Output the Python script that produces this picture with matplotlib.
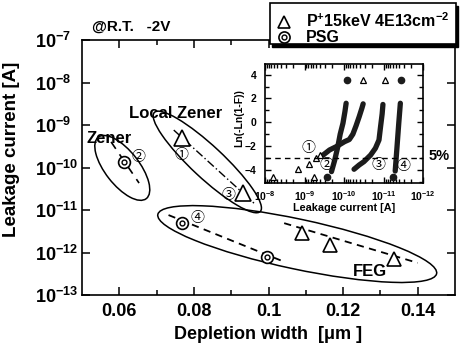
import matplotlib
matplotlib.use("Agg")
import matplotlib.pyplot as plt
import matplotlib.transforms as mtransforms
from matplotlib.patches import Ellipse, Rectangle
from matplotlib.lines import Line2D
from matplotlib.ticker import MultipleLocator, LogLocator, NullFormatter, NullLocator

plt.rcParams['font.family'] = ['Liberation Sans', 'DejaVu Sans']
plt.rcParams['font.weight'] = 'bold'
plt.rcParams['axes.labelweight'] = 'bold'
plt.rcParams['mathtext.fontset'] = 'custom'
for k in ('rm', 'it', 'bf', 'sf'):
    plt.rcParams['mathtext.' + k] = 'Liberation Sans:bold'

# ---- main plot data (depletion width [um], leakage current [A]) ----
zener_psg_x = [0.0612]
zener_psg_y = [1.37e-10]
zener_fit_x = [0.0578, 0.0653]
zener_fit_y = [4.0e-10, 4.3e-11]

lz_tri_x = [0.0768, 0.0931]
lz_tri_y = [5.0e-10, 2.45e-11]
lz_fit_x = [0.0746, 0.0961]
lz_fit_y = [7.6e-10, 1.45e-11]

feg_psg_x = [0.0768, 0.0997]
feg_psg_y = [4.9e-12, 7.9e-13]
feg_psg_fit_x = [0.0732, 0.1041]
feg_psg_fit_y = [7.6e-12, 6.1e-13]

feg_tri_x = [0.1090, 0.1166, 0.1336]
feg_tri_y = [2.8e-12, 1.5e-12, 7.2e-13]
feg_tri_fit_x = [0.1042, 0.1400]
feg_tri_fit_y = [4.9e-12, 5.7e-13]

# groups: label, centre x, centre y
group_names = ['Zener', 'Local Zener', 'FEG']
group_cx = [0.0608, 0.0836, 0.1077]
group_cy = [9.8e-11, 1.35e-10, 1.58e-12]
group_label_x = [0.0572, 0.0752, 0.1271]
group_label_y = [4.9e-10, 1.82e-9, 3.5e-13]

num_labels = ['①', '②', '③', '④']
num_x = [0.0766, 0.0650, 0.0893, 0.0809]
num_y = [1.97e-10, 1.74e-10, 2.25e-11, 6.4e-12]

# ---- inset: Weibull plot, log10 of leakage current vs Ln(-Ln(1-F)) ----
c1_logi = [-9.47, -9.63, -9.80, -10.01, -10.13, -10.22, -10.30, -10.38, -10.45, -10.48]
c1_w = [-2.75, -2.33, -2.05, -1.63, -1.45, -1.00, -0.30, 0.47, 1.20, 1.55]
c2_logi = [-9.68, -9.76, -9.84, -9.90, -9.97, -10.02, -10.05]
c2_w = [-4.15, -3.20, -2.05, -1.00, -0.08, 0.90, 1.60]
c3_logi = [-10.25, -10.38, -10.50, -10.67, -10.79, -10.88, -10.92, -10.96, -10.98]
c3_w = [-3.95, -3.59, -3.31, -2.75, -2.18, -1.49, -0.37, 0.70, 1.50]
c4_logi = [-11.29, -11.33, -11.38, -11.42]
c4_w = [-4.10, -2.33, -0.08, 1.60]

tail_tri_logi = [-8.84, -9.12, -9.30, -9.38]
tail_tri_w = [-3.92, -3.50, -3.03, -2.75]
top_tri_logi = [-10.48, -11.02]
top_dot_logi = [-10.06, -11.44]
top_w = 3.55
bot_tri_logi = [-8.19, -9.25]
bot_dot_logi = [-9.56, -11.23]
bot_w = -4.57
weibull_5pct = -2.97

inset_num_x = [-9.09, -9.55, -10.86, -11.50]
inset_num_y = [-2.18, -3.60, -3.60, -3.68]

W, H = 470, 346
fig = plt.figure(figsize=(W / 100, H / 100), dpi=100)
ax = fig.add_axes([82 / W, 51 / H, 373 / W, 255 / H])

ax.set_xlim(0.05, 0.15)
ax.set_yscale('log')
ax.set_ylim(1e-13, 1e-7)
ax.set_xticks([0.06, 0.08, 0.10, 0.12, 0.14])
ax.set_xticklabels(['0.06', '0.08', '0.1', '0.12', '0.14'])
ax.set_xticks([0.07, 0.09, 0.11, 0.13], minor=True)
yt = [1e-13, 1e-12, 1e-11, 1e-10, 1e-9, 1e-8, 1e-7]
ax.set_yticks(yt)
ax.set_yticklabels([r'$10^{%d}$' % e for e in range(-13, -6)])
ax.yaxis.set_minor_locator(NullLocator())
ax.tick_params(axis='both', which='both', direction='in', top=True, right=True, width=1.1)
ax.tick_params(axis='both', which='major', length=6)
ax.tick_params(axis='both', which='minor', length=3.5)
ax.tick_params(axis='x', labelsize=13, pad=6)
ax.tick_params(axis='y', labelsize=13, pad=34)
for lbl in ax.get_yticklabels():
    lbl.set_ha('left')
for s in ax.spines.values():
    s.set_linewidth(1.2)

ax.set_xlabel('Depletion width  [\u03bcm ]', fontsize=13, labelpad=4)
ax.set_ylabel('Leakage current [A]', fontsize=13.5)
ax.yaxis.set_label_coords(-0.165, 0.57)

# fit lines
ax.plot(zener_fit_x, zener_fit_y, color='k', lw=1.2, ls=(0, (5, 4)))
ax.plot(lz_fit_x, lz_fit_y, color='k', lw=1.0, ls=(0, (6, 2, 1, 2)))
ax.plot(feg_psg_fit_x, feg_psg_fit_y, color='k', lw=1.3, ls=(0, (4, 3)))
ax.plot(feg_tri_fit_x, feg_tri_fit_y, color='k', lw=1.3, ls=(0, (4, 3)))


def psg(a, x, y, ms_out, ms_in):
    a.plot(x, y, 'o', ms=ms_out, mfc='white', mec='k', mew=1.2, ls='none', zorder=4)
    a.plot(x, y, 'o', ms=ms_in, mfc='none', mec='k', mew=1.0, ls='none', zorder=5)


psg(ax, zener_psg_x, zener_psg_y, 8.5, 3.5)
psg(ax, feg_psg_x, feg_psg_y, 8.5, 3.5)
ax.plot(lz_tri_x, lz_tri_y, '^', ms=11, mfc='white', mec='k', mew=1.2, ls='none', zorder=4)
ax.plot(feg_tri_x, feg_tri_y, '^', ms=9.5, mfc='white', mec='k', mew=1.2, ls='none', zorder=4)

# group ellipses (size in pixels, placed at data centre)
ell_w = [78, 145, 285]
ell_h = [34, 32, 50]
ell_ang = [-52, -43, -12]
for cx, cy, w, h, a in zip(group_cx, group_cy, ell_w, ell_h, ell_ang):
    tr = fig.dpi_scale_trans + mtransforms.ScaledTranslation(cx, cy, ax.transData)
    ax.add_patch(Ellipse((0, 0), w / 100, h / 100, angle=a, transform=tr,
                         fill=False, lw=1.1, ec='k', clip_on=False))

for name, x, y in zip(group_names, group_label_x, group_label_y):
    ax.text(x, y, name, fontsize=12, ha='center', va='center')
for s, x, y in zip(num_labels, num_x, num_y):
    ax.text(x, y, s, fontsize=10, ha='center', va='center',
            family=['Noto Sans CJK JP'], fontweight='normal')

fig.text(92 / W, 1 - 27 / H, '@R.T.   -2V', fontsize=11, va='center')

# ---- inset ----
ax2 = fig.add_axes([265 / W, (H - 183.3) / H, 158.3 / W, 119.3 / H])
ax2.set_facecolor('white')
ax2.set_xscale('log')
ax2.set_xlim(1e-8, 1e-12)
ax2.set_ylim(-5.13, 4.9)
ax2.set_yticks([-4, -2, 0, 2, 4])
ax2.yaxis.set_minor_locator(MultipleLocator(1))
ax2.xaxis.set_major_locator(LogLocator(base=10, numticks=10))
ax2.xaxis.set_minor_locator(LogLocator(base=10, subs=range(2, 10), numticks=20))
ax2.xaxis.set_minor_formatter(NullFormatter())
ax2.tick_params(axis='both', which='both', direction='in', top=True, right=True, width=1.0)
ax2.tick_params(axis='both', which='major', length=4.5)
ax2.tick_params(axis='both', which='minor', length=3)
ax2.tick_params(axis='x', labelsize=7.5, pad=4)
ax2.tick_params(axis='y', labelsize=7.5, pad=6)
for s in ax2.spines.values():
    s.set_linewidth(1.2)
ax2.set_xlabel('Leakage current [A]', fontsize=7.8, labelpad=0)
ax2.set_ylabel('Ln(-Ln(1-F))', fontsize=7.5)
ax2.yaxis.set_label_coords(-0.13, 0.55)

for lx, wy in ((c1_logi, c1_w), (c2_logi, c2_w), (c3_logi, c3_w), (c4_logi, c4_w)):
    ax2.plot([10 ** v for v in lx], wy, color='#1c1c1c', lw=3.8,
             solid_capstyle='round', solid_joinstyle='round')
ax2.plot([10 ** v for v in tail_tri_logi], tail_tri_w, '^', ms=4.5, mfc='white', mec='k', mew=0.9, ls='none')
ax2.plot([10 ** v for v in top_tri_logi], [top_w] * len(top_tri_logi), '^', ms=4.5, mfc='white', mec='k', mew=0.9, ls='none')
ax2.plot([10 ** v for v in top_dot_logi], [top_w] * len(top_dot_logi), 'o', ms=4.5, color='#1c1c1c', ls='none')
ax2.plot([10 ** v for v in bot_tri_logi], [bot_w] * len(bot_tri_logi), '^', ms=4.5, mfc='white', mec='k', mew=0.9, ls='none')
ax2.plot([10 ** v for v in bot_dot_logi], [bot_w] * len(bot_dot_logi), 'o', ms=4.5, color='#1c1c1c', ls='none')
ax2.axhline(weibull_5pct, color='k', lw=1.0, ls=(0, (4, 3)))
for s, x, y in zip(num_labels, inset_num_x, inset_num_y):
    ax2.text(10 ** x, y, s, fontsize=10, ha='center', va='center',
             family=['Noto Sans CJK JP'], fontweight='normal')
fig.text(439 / W, 1 - 156 / H, '5%', fontsize=10.5, ha='center', va='center')

# ---- legend box with shadow ----
bx0, bx1, by0, by1 = 269.5, 455.5, 3, 44
fig.add_artist(Rectangle(((bx0 + 2.5) / W, 1 - (by1 + 2.5) / H), (bx1 - bx0) / W, (by1 - by0) / H,
                         transform=fig.transFigure, fc='k', ec='k', lw=1, zorder=10))
fig.add_artist(Rectangle((bx0 / W, 1 - by1 / H), (bx1 - bx0) / W, (by1 - by0) / H,
                         transform=fig.transFigure, fc='white', ec='k', lw=1.2, zorder=11))
fig.add_artist(Line2D([284 / W], [1 - 22 / H], marker='^', ms=9, mfc='none', mec='k', mew=1.2,
                      transform=fig.transFigure, zorder=12))
fig.add_artist(Line2D([284 / W], [1 - 37 / H], marker='o', ms=8, mfc='none', mec='k', mew=1.2,
                      transform=fig.transFigure, zorder=12))
fig.add_artist(Line2D([284 / W], [1 - 37 / H], marker='o', ms=3.5, mfc='none', mec='k', mew=1.0,
                      transform=fig.transFigure, zorder=12))
fig.text(306 / W, 1 - 21 / H, r'P$^{+}$15keV 4E13cm$^{-2}$', fontsize=11.5, va='center', zorder=12)
fig.text(306 / W, 1 - 37 / H, 'PSG', fontsize=11.5, va='center', zorder=12)

fig.savefig('out.png', dpi=100)
